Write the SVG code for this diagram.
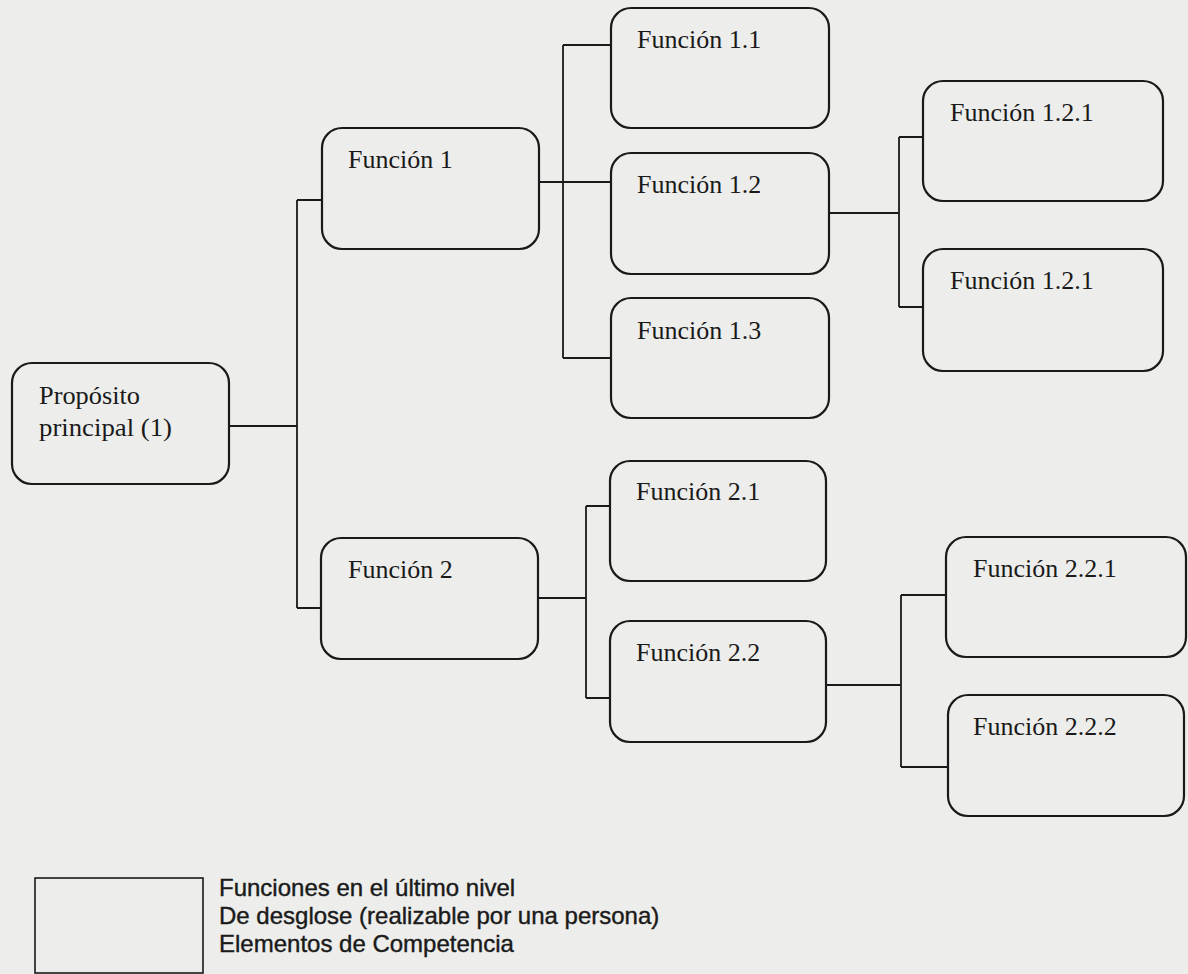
<svg xmlns="http://www.w3.org/2000/svg" width="1188" height="974" viewBox="0 0 1188 974">
<style>
.bg{fill:#ededeb}
.node rect{fill:none;stroke:#1a1a1a;stroke-width:2.2}
.node text{font-family:"Liberation Serif","Times New Roman",serif;font-size:26px;fill:#1a1a1a}
.conn path{fill:none;stroke:#1a1a1a;stroke-width:1.8}
.legend rect{fill:none;stroke:#1a1a1a;stroke-width:1.6}
.legend text{font-family:"Liberation Sans",Arial,sans-serif;font-size:24px;fill:#1a1a1a;stroke:#1a1a1a;stroke-width:0.4}
</style>
<rect class="bg" x="0" y="0" width="1188" height="974"/>
<g class="conn" id="connectors">
<path d="M229,426 H297 M297,200 V608 M297,200 H322 M297,608 H321"/>
<path d="M539,182 H611 M563,45 V358 M563,45 H611 M563,358 H611"/>
<path d="M829,213 H899 M899,137 V307 M899,137 H923 M899,307 H923"/>
<path d="M538,598 H586 M586,506 V698 M586,506 H610 M586,698 H610"/>
<path d="M826,685 H901 M901,595 V767 M901,595 H946 M901,767 H948"/>
</g>
<g class="node" id="proposito"><rect x="12" y="363" width="217" height="121" rx="20"/><text x="39" y="404" font-size="30" textLength="101" lengthAdjust="spacingAndGlyphs">Propósito</text><text x="39" y="436" font-size="30" textLength="133" lengthAdjust="spacingAndGlyphs">principal (1)</text></g>
<g class="node" id="f1"><rect x="322" y="128" width="217" height="121" rx="20"/><text x="348" y="168">Función 1</text></g>
<g class="node" id="f11"><rect x="611" y="8" width="218" height="120" rx="20"/><text x="637" y="48">Función 1.1</text></g>
<g class="node" id="f12"><rect x="611" y="153" width="218" height="121" rx="20"/><text x="637" y="193">Función 1.2</text></g>
<g class="node" id="f13"><rect x="611" y="298" width="218" height="120" rx="20"/><text x="637" y="339">Función 1.3</text></g>
<g class="node" id="f121a"><rect x="923" y="81" width="240" height="120" rx="20"/><text x="950" y="121">Función 1.2.1</text></g>
<g class="node" id="f121b"><rect x="923" y="249" width="240" height="122" rx="20"/><text x="950" y="289">Función 1.2.1</text></g>
<g class="node" id="f2"><rect x="321" y="538" width="217" height="121" rx="20"/><text x="348" y="578">Función 2</text></g>
<g class="node" id="f21"><rect x="610" y="461" width="216" height="120" rx="20"/><text x="636" y="500">Función 2.1</text></g>
<g class="node" id="f22"><rect x="610" y="621" width="216" height="121" rx="20"/><text x="636" y="661">Función 2.2</text></g>
<g class="node" id="f221"><rect x="946" y="537" width="240" height="120" rx="20"/><text x="973" y="577">Función 2.2.1</text></g>
<g class="node" id="f222"><rect x="948" y="695" width="236" height="121" rx="20"/><text x="973" y="735">Función 2.2.2</text></g>
<g class="legend" id="legend"><rect x="35" y="878" width="168" height="95"/><text x="219" y="896">Funciones en el último nivel</text><text x="219" y="924">De desglose (realizable por una persona)</text><text x="219" y="952">Elementos de Competencia</text></g>
</svg>
